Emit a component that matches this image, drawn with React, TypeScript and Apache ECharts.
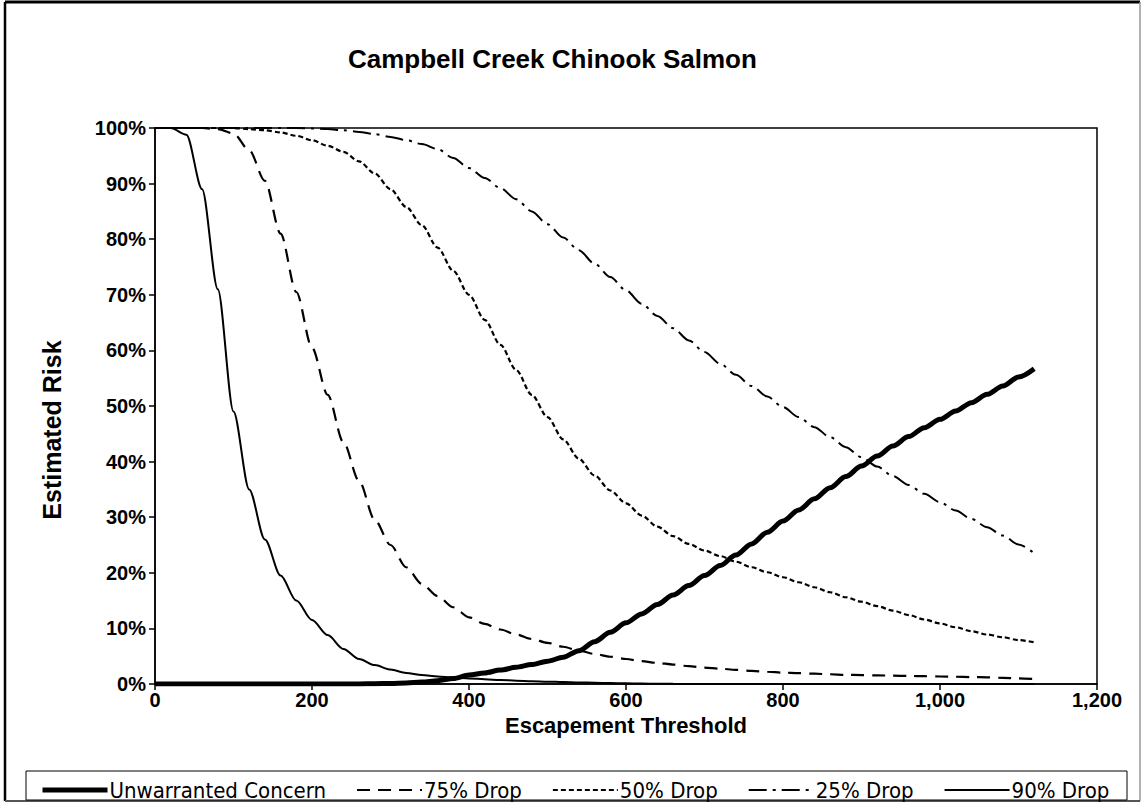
import React, { useEffect, useRef } from "react";
import * as echarts from "echarts";

const escapement = [
  0, 20, 40, 60, 80, 100, 120, 140, 160, 180, 200, 220, 240, 260, 280, 300, 320, 340, 360, 380,
  400, 420, 440, 460, 480, 500, 520, 540, 560, 580, 600, 620, 640, 660, 680, 700, 720, 740, 760, 780,
  800, 820, 840, 860, 880, 900, 920, 940, 960, 980, 1000, 1020, 1040, 1060, 1080, 1100, 1120,
];

const unwarrantedConcern = [
  0, 0, 0, 0, 0, 0, 0, 0, 0, 0, 0, 0, 0, 0, 0.05, 0.1, 0.2, 0.35, 0.6, 1.0,
  1.6, 2.0, 2.5, 3.0, 3.5, 4.1, 4.8, 6.0, 7.6, 9.3, 11, 12.6, 14.3, 16, 17.7, 19.5, 21.3, 23.2, 25.2, 27.3,
  29.3, 31.3, 33.3, 35.3, 37.3, 39.2, 41, 42.8, 44.5, 46.1, 47.6, 49.1, 50.6, 52.1, 53.6, 55.2, 56.7,
];

const drop75 = [
  100, 100, 100, 100, 99.8, 99, 96, 90.5, 81, 70.5, 60.5, 52, 43.5, 36.5, 29.5, 25, 21, 18, 15.8, 13.8,
  12, 10.8, 9.8, 8.9, 8.1, 7.4, 6.7, 6.0, 5.4, 4.9, 4.5, 4.1, 3.8, 3.5, 3.2, 2.95, 2.75, 2.55, 2.35, 2.2,
  2.05, 1.95, 1.85, 1.75, 1.65, 1.6, 1.55, 1.5, 1.45, 1.4, 1.35, 1.3, 1.25, 1.2, 1.1, 1.0, 0.9,
];

const drop50 = [
  100, 100, 100, 100, 100, 100, 99.8, 99.6, 99.2, 98.6, 97.8, 96.8, 95.7, 94, 91.8, 89, 85.8, 82.5, 78.5, 74.3,
  70, 65.5, 61, 56.5, 52, 48, 44, 40.5, 37.5, 34.8, 32.5, 30.3, 28.3, 26.6, 25.2, 24, 23, 22, 21, 20.1,
  19.2, 18.3, 17.4, 16.5, 15.6, 14.8, 14, 13.2, 12.4, 11.6, 10.9, 10.2, 9.5, 8.9, 8.4, 7.9, 7.5,
];

const drop25 = [
  100, 100, 100, 100, 100, 100, 100, 100, 100, 100, 99.9, 99.8, 99.6, 99.3, 98.9, 98.4, 97.8, 97.1, 96.2, 94.6,
  92.8, 91, 89.2, 87.2, 85, 82.7, 80.3, 78, 75.6, 73.2, 70.8, 68.4, 66.2, 64, 61.8, 59.7, 57.6, 55.6, 53.6, 51.7,
  49.8, 48, 46.2, 44.4, 42.6, 40.8, 39.1, 37.4, 35.8, 34.2, 32.7, 31.2, 29.7, 28.2, 26.7, 25.1, 23.5,
];

const drop90 = [
  100, 100, 98.8, 89, 71, 49, 35, 26, 19.5, 15, 11.5, 8.8, 6.3, 4.5, 3.4, 2.6, 2.0, 1.6, 1.35, 1.15,
  1.0, 0.85, 0.72, 0.6, 0.5, 0.42, 0.35, 0.28, 0.22, 0.17, 0.12, 0.08, 0.05, 0.03, 0, 0, 0, 0, 0, 0,
  0, 0, 0, 0, 0, 0, 0, 0, 0, 0, 0, 0, 0, 0, 0, 0, 0,
];

const seriesNames = ["Unwarranted Concern", "75% Drop", "50% Drop", "25% Drop", "90% Drop"];

const FONT = "'Liberation Sans', Arial, sans-serif";
const NARROW = "'Liberation Sans Narrow', 'DejaVu Sans Condensed', 'Liberation Sans', sans-serif";

function pairs(ys: number[]) {
  return escapement.map((x, i) => [x, ys[i]]);
}

export default function App() {
  const ref = useRef<HTMLDivElement>(null);
  useEffect(() => {
    if (!ref.current) return;
    const chart = echarts.init(ref.current, null, { renderer: "svg" });
    const mk = (name: string, data: number[], width: number, type: any, z: number) => ({
      name,
      type: "line",
      data: pairs(data),
      symbol: "none",
      smooth: 0.3,
      smoothMonotone: "x",
      z,
      lineStyle: { color: "#000", width, type, cap: "butt" },
      itemStyle: { color: "#000" },
    });
    chart.setOption({
      animation: false,
      backgroundColor: "#fff",
      title: {
        text: "Campbell Creek Chinook Salmon",
        left: 343,
        top: 41,
        textStyle: { fontFamily: FONT, fontWeight: "bold", fontSize: 26, color: "#000" },
      },
      grid: {
        left: 155,
        right: 46,
        top: 128,
        bottom: 119,
        show: true,
        borderColor: "#000",
        borderWidth: 1.5,
        backgroundColor: "transparent",
      },
      xAxis: {
        type: "value",
        min: 0,
        max: 1200,
        interval: 200,
        name: "Escapement Threshold",
        nameLocation: "middle",
        nameGap: 18,
        nameTextStyle: { fontFamily: FONT, fontWeight: "bold", fontSize: 22, color: "#000" },
        axisLine: { show: true, onZero: false, lineStyle: { color: "#000", width: 1.5 } },
        axisTick: { show: true, length: 6, lineStyle: { color: "#000", width: 1.5 } },
        splitLine: { show: false },
        axisLabel: {
          margin: 6,
          fontFamily: FONT,
          fontWeight: "bold",
          fontSize: 20,
          color: "#000",
          formatter: (v: number) => v.toLocaleString("en-US"),
        },
      },
      yAxis: {
        type: "value",
        min: 0,
        max: 100,
        interval: 10,
        axisLine: { show: true, lineStyle: { color: "#000", width: 1.5 } },
        axisTick: { show: true, length: 6, lineStyle: { color: "#000", width: 1.5 } },
        splitLine: { show: false },
        axisLabel: {
          margin: 9,
          fontFamily: FONT,
          fontWeight: "bold",
          fontSize: 20,
          color: "#000",
          formatter: "{value}%",
        },
      },
      legend: {
        data: [
          { name: seriesNames[0], lineStyle: { width: 5 } },
          { name: seriesNames[1] },
          { name: seriesNames[2] },
          { name: seriesNames[3] },
          { name: seriesNames[4] },
        ],
        left: 35,
        top: 774,
        itemWidth: 65,
        itemHeight: 16,
        itemGap: 30,
        itemStyle: { opacity: 0 },
        textStyle: { fontFamily: NARROW, fontSize: 22, color: "#000", padding: [0, 0, 0, -3] },
      },
      graphic: [
        { type: "line", shape: { x1: 5, y1: 2, x2: 1140, y2: 2 }, style: { stroke: "#000", lineWidth: 3 } },
        { type: "line", shape: { x1: 5, y1: 2, x2: 5, y2: 801 }, style: { stroke: "#000", lineWidth: 2.5 } },
        { type: "line", shape: { x1: 1140, y1: 2, x2: 1140, y2: 801 }, style: { stroke: "#999", lineWidth: 1.5 } },
        { type: "line", shape: { x1: 5, y1: 801, x2: 1140, y2: 801 }, style: { stroke: "#555", lineWidth: 2 } },
        {
          type: "rect",
          shape: { x: 26, y: 771, width: 1101, height: 29 },
          style: { fill: "none", stroke: "#000", lineWidth: 1 },
        },
        {
          type: "text",
          x: 52,
          y: 430,
          rotation: Math.PI / 2,
          style: {
            text: "Estimated Risk",
            fontFamily: FONT,
            fontWeight: "bold",
            fontSize: 25,
            fill: "#000",
            align: "center",
            verticalAlign: "middle",
          },
        },
      ],
      series: [
        mk(seriesNames[0], unwarrantedConcern, 5, "solid", 5),
        mk(seriesNames[1], drop75, 2.2, [13, 8], 3),
        mk(seriesNames[2], drop50, 2.2, [5, 3], 3),
        mk(seriesNames[3], drop25, 2, [18, 6, 3, 6], 3),
        mk(seriesNames[4], drop90, 2, "solid", 4),
      ],
    });
    return () => chart.dispose();
  }, []);
  return (
    <div
      ref={ref}
      style={{ position: "fixed", left: 0, top: 0, width: 1143, height: 803, background: "#fff" }}
    />
  );
}
